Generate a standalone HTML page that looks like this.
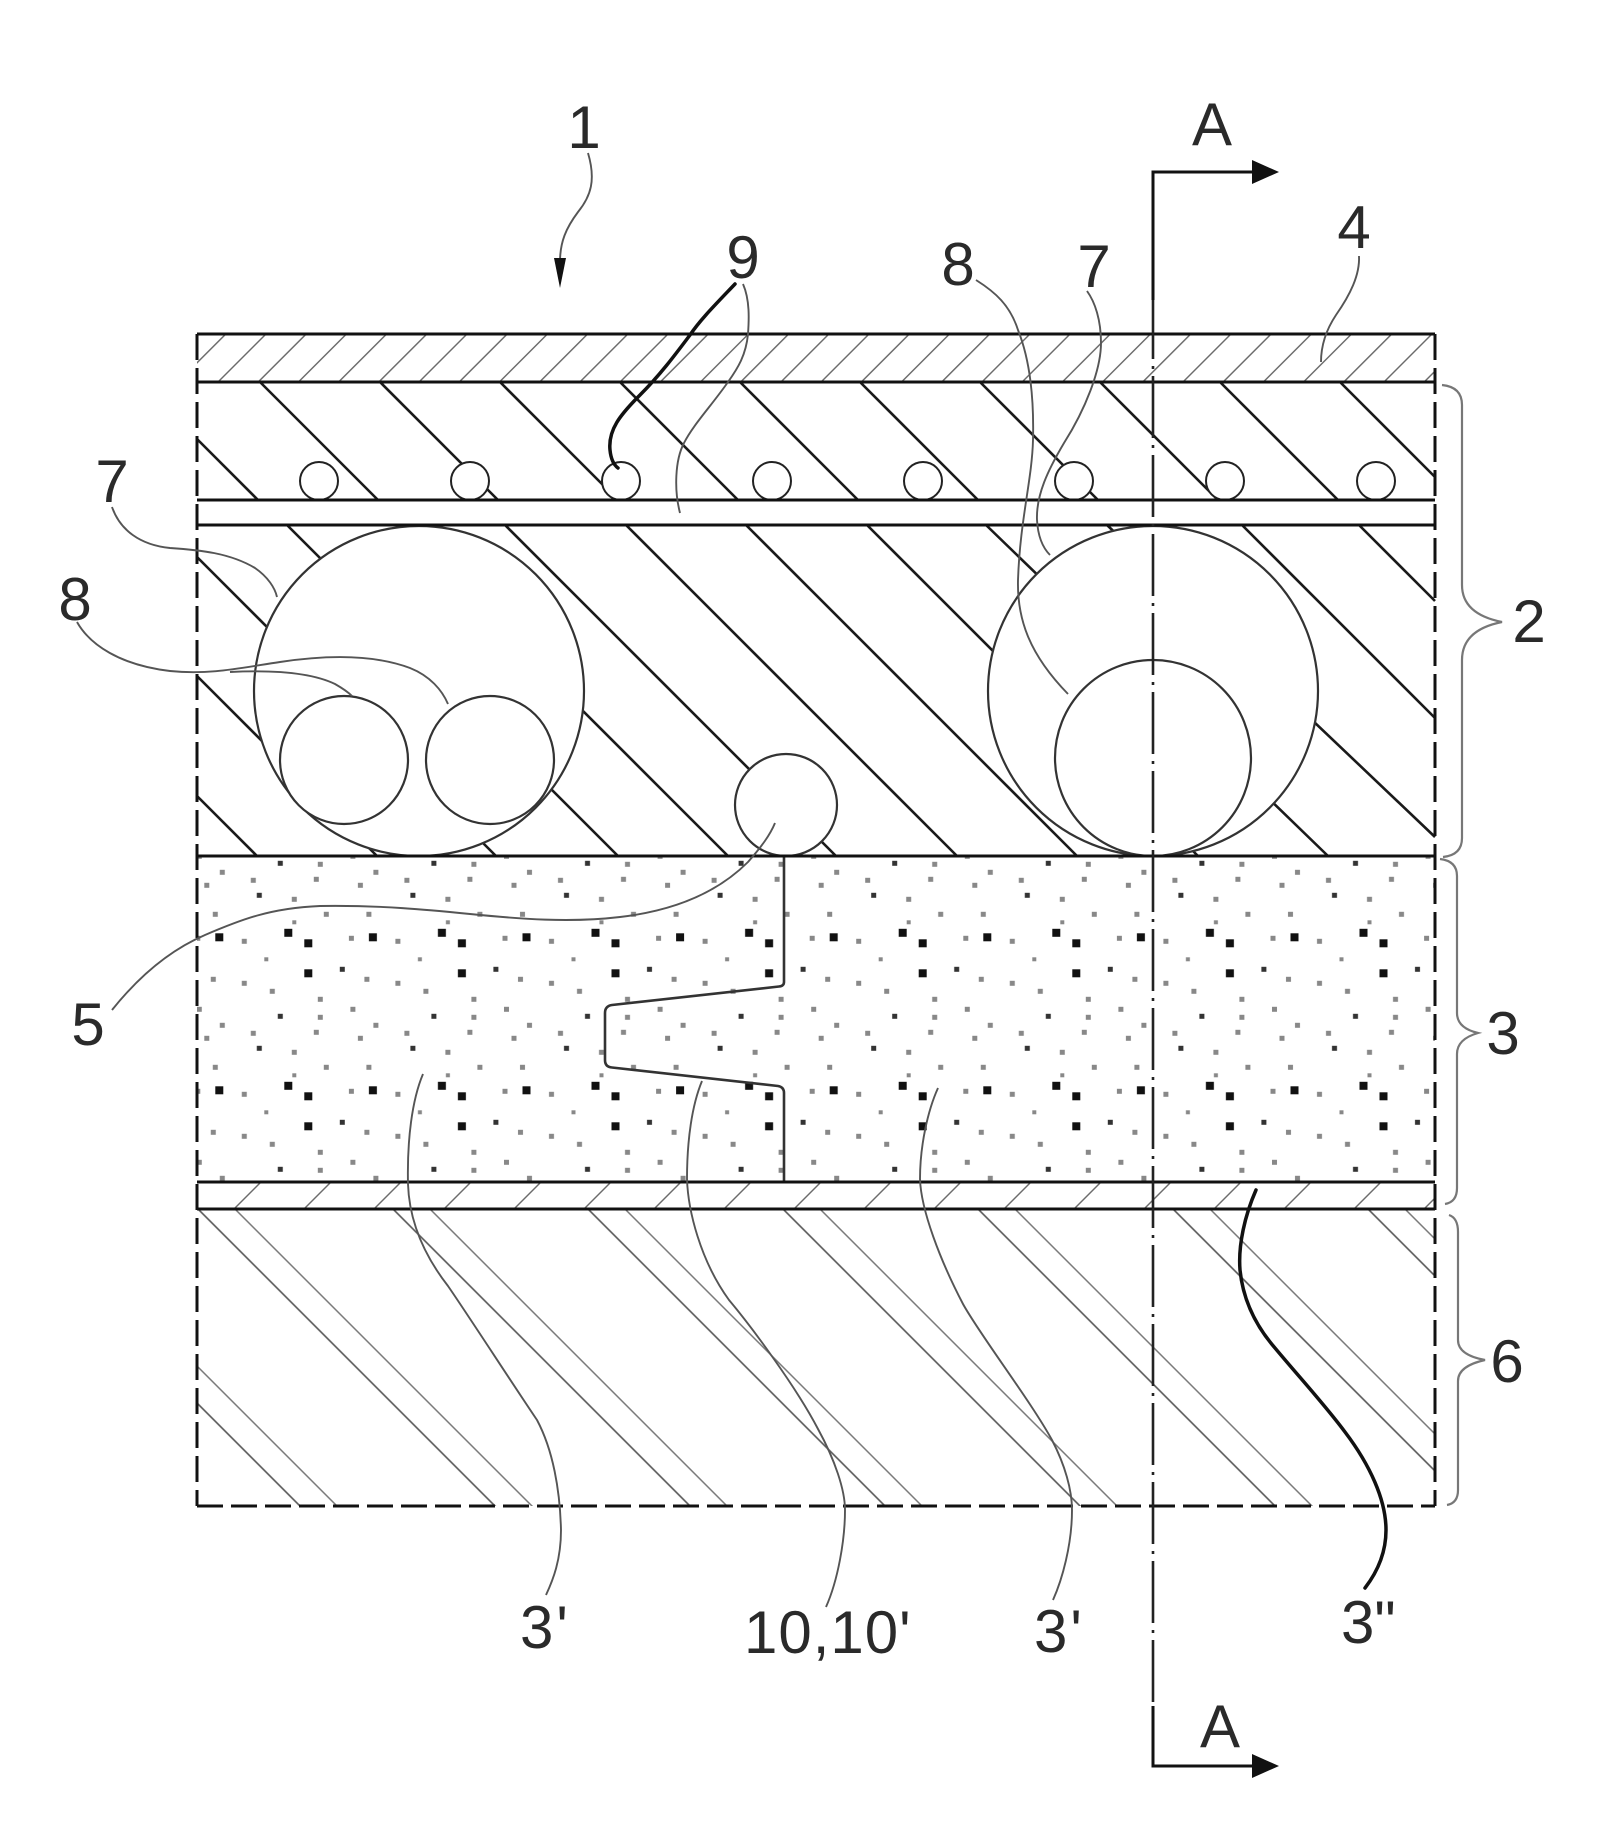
<!DOCTYPE html>
<html>
<head>
<meta charset="utf-8">
<style>
html,body{margin:0;padding:0;background:#fff;}
svg{display:block;}
text{font-family:"Liberation Sans",Arial,sans-serif;font-size:60px;fill:#2a2a2a;}
</style>
</head>
<body>
<svg width="1605" height="1827" viewBox="0 0 1605 1827" xmlns="http://www.w3.org/2000/svg">
<defs>
  <pattern id="pB4" patternUnits="userSpaceOnUse" x="410.06" y="0" width="28.43" height="20" patternTransform="rotate(45)">
    <rect x="13.5" y="0" width="1.4" height="20" fill="#666"/>
  </pattern>
  <pattern id="pB3" patternUnits="userSpaceOnUse" x="995.6" y="0" width="49.5" height="20" patternTransform="rotate(45)">
    <rect x="24.05" y="0" width="1.4" height="20" fill="#666"/>
  </pattern>
  <pattern id="pL6" patternUnits="userSpaceOnUse" x="-734.9" y="0" width="137.89" height="20" patternTransform="rotate(-45)">
    <rect x="19.2" y="0" width="1.6" height="20" fill="#555"/>
    <rect x="45.4" y="0" width="1.5" height="20" fill="#777"/>
  </pattern>
  <pattern id="pDots" patternUnits="userSpaceOnUse" x="194.3" y="927.3" width="153.6" height="153">
    <g fill="#111">
      <rect x="21" y="6" width="8" height="8"/>
      <rect x="90" y="1.5" width="8" height="8"/>
      <rect x="110" y="12" width="8" height="8"/>
      <rect x="110" y="42" width="8" height="8"/>
    </g>
    <g fill="#333">
      <rect x="145.5" y="39.5" width="5" height="5"/>
      <rect x="83.5" y="86.5" width="5" height="5"/>
      <rect x="62.5" y="118.5" width="5" height="5"/>
    </g>
    <g fill="#888">
      <rect x="47.5" y="11.5" width="5" height="5"/>
      <rect x="1" y="8.5" width="5" height="5"/>
      <rect x="16.5" y="49.5" width="5" height="5"/>
      <rect x="47.5" y="53.5" width="5" height="5"/>
      <rect x="75.5" y="61.5" width="5" height="5"/>
      <rect x="123.5" y="69.5" width="5" height="5"/>
      <rect x="2.5" y="79.5" width="5" height="5"/>
      <rect x="123.5" y="87.5" width="5" height="5"/>
      <rect x="25.5" y="95.5" width="5" height="5"/>
      <rect x="56.5" y="103.5" width="5" height="5"/>
      <rect x="119.5" y="102.5" width="5" height="5"/>
      <rect x="10" y="108.5" width="5" height="5"/>
      <rect x="97.5" y="122.5" width="5" height="5"/>
      <rect x="18.5" y="137.5" width="5" height="5"/>
      <rect x="129.5" y="137.5" width="5" height="5"/>
      <rect x="70" y="30" width="4" height="4"/>
      <rect x="98" y="146" width="4" height="4"/>
    </g>
  </pattern>
</defs>

<!-- fills / hatch regions -->
<rect x="197" y="334" width="1238" height="48" fill="url(#pB4)"/>
<rect x="197" y="1182" width="1238" height="27" fill="url(#pB3)"/>
<rect x="197" y="1209" width="1238" height="297" fill="url(#pL6)"/>
<rect x="197" y="857" width="1238" height="325" fill="url(#pDots)"/>

<!-- layer 2 upper hatch -->
<g stroke="#1a1a1a" stroke-width="2.6" fill="none">
  <line x1="197" y1="439" x2="258" y2="500"/>
  <line x1="260" y1="382" x2="378" y2="500"/>
  <line x1="380" y1="382" x2="498" y2="500"/>
  <line x1="500" y1="382" x2="618" y2="500"/>
  <line x1="620" y1="382" x2="738" y2="500"/>
  <line x1="740" y1="382" x2="858" y2="500"/>
  <line x1="860" y1="382" x2="978" y2="500"/>
  <line x1="980" y1="382" x2="1098" y2="500"/>
  <line x1="1100" y1="382" x2="1218" y2="500"/>
  <line x1="1220" y1="382" x2="1338" y2="500"/>
  <line x1="1340" y1="382" x2="1435" y2="477"/>
</g>
<!-- layer 2 lower hatch -->
<g stroke="#1a1a1a" stroke-width="2.6" fill="none">
  <line x1="197" y1="796" x2="257" y2="856"/>
  <line x1="197" y1="676" x2="377" y2="856"/>
  <line x1="197" y1="557" x2="496" y2="856"/>
  <line x1="287" y1="525" x2="618" y2="856"/>
  <line x1="397" y1="525" x2="728" y2="856"/>
  <line x1="505" y1="525" x2="836" y2="856"/>
  <line x1="626" y1="525" x2="957" y2="856"/>
  <line x1="746" y1="525" x2="1077" y2="856"/>
  <line x1="867" y1="525" x2="1198" y2="856"/>
  <line x1="986" y1="525" x2="1328" y2="856"/>
  <line x1="1107" y1="525" x2="1435" y2="837"/>
  <line x1="1242" y1="525" x2="1435" y2="718"/>
  <line x1="1359" y1="525" x2="1435" y2="601"/>
</g>

<!-- circles -->
<g fill="#fff" stroke="#333" stroke-width="2.2">
  <circle cx="419" cy="691" r="165"/>
  <circle cx="344" cy="760" r="64"/>
  <circle cx="490" cy="760" r="64"/>
  <circle cx="786" cy="805" r="51"/>
  <circle cx="1153" cy="691" r="165"/>
  <circle cx="1153" cy="758" r="98"/>
</g>
<g fill="#fff" stroke="#222" stroke-width="2">
  <circle cx="319" cy="481" r="19"/>
  <circle cx="470" cy="481" r="19"/>
  <circle cx="621" cy="481" r="19"/>
  <circle cx="772" cy="481" r="19"/>
  <circle cx="923" cy="481" r="19"/>
  <circle cx="1074" cy="481" r="19"/>
  <circle cx="1225" cy="481" r="19"/>
  <circle cx="1376" cy="481" r="19"/>
</g>

<!-- step line in layer 3 -->
<path d="M784,856 L784,982 Q784,986 779,986.5 L612,1005 Q605,1006 605,1013 L605,1060 Q605,1067 612,1067.5 L778,1086 Q784,1087 784,1093 L784,1182" fill="none" stroke="#333" stroke-width="2.6"/>

<!-- structural horizontal lines -->
<g stroke="#111" stroke-width="3">
  <line x1="197" y1="334" x2="1435" y2="334"/>
  <line x1="197" y1="382" x2="1435" y2="382"/>
  <line x1="197" y1="500" x2="1435" y2="500"/>
  <line x1="197" y1="525" x2="1435" y2="525"/>
  <line x1="197" y1="856" x2="1435" y2="856"/>
  <line x1="197" y1="1182" x2="1435" y2="1182"/>
  <line x1="197" y1="1209" x2="1435" y2="1209"/>
</g>
<!-- dashed outline -->
<g stroke="#111" stroke-width="3" stroke-dasharray="26 8" fill="none">
  <line x1="197" y1="334" x2="197" y2="1506"/>
  <line x1="1435" y1="334" x2="1435" y2="1506"/>
  <line x1="197" y1="1506" x2="1435" y2="1506"/>
</g>

<!-- section line A-A -->
<line x1="1153" y1="297" x2="1153" y2="1710" stroke="#222" stroke-width="2.6" stroke-dasharray="62 7 3 7"/>
<path d="M1153,300 L1153,172 L1256,172" fill="none" stroke="#111" stroke-width="3"/>
<polygon points="1252,160 1279,172 1252,184" fill="#111"/>
<path d="M1153,1706 L1153,1766 L1256,1766" fill="none" stroke="#111" stroke-width="3"/>
<polygon points="1252,1754 1279,1766 1252,1778" fill="#111"/>

<!-- brackets -->
<g fill="none" stroke="#777" stroke-width="2.2">
  <path d="M1442,385 Q1462,387 1462,405 L1462,585 Q1462,614 1502,622 Q1462,630 1462,660 L1462,838 Q1462,855 1443,857"/>
  <path d="M1440,859 Q1457,861 1457,876 L1457,1013 Q1457,1028 1478,1033 Q1457,1039 1457,1054 L1457,1188 Q1457,1202 1445,1204"/>
  <path d="M1449,1215 Q1458,1218 1458,1232 L1458,1340 Q1458,1355 1485,1360 Q1458,1366 1458,1381 L1458,1490 Q1458,1503 1447,1505"/>
</g>

<!-- leaders (thin) -->
<g fill="none" stroke="#555" stroke-width="1.9">
  <path d="M588,153 C596,180 591,196 578,212 C566,228 560,242 560,262"/>
  <path d="M743,284 C750,300 749,320 748,334 C746,355 738,368 728,382 C712,405 693,425 684,443 C675,460 674,490 680,513"/>
  <path d="M976,280 C995,292 1010,305 1018,330 C1030,360 1034,400 1033,440 C1032,480 1020,520 1018,580 C1017,620 1030,655 1068,694"/>
  <path d="M1087,291 C1095,302 1101,320 1101,343 C1101,370 1085,410 1064,443 C1048,470 1036,495 1037,520 C1038,538 1043,548 1050,555"/>
  <path d="M1359,256 C1360,275 1350,295 1336,315 C1326,330 1321,345 1321,362"/>
  <path d="M112,507 C120,530 140,545 170,548 C200,550 230,553 255,568 C268,577 275,588 277,597"/>
  <path d="M77,622 C90,645 120,665 170,671 C210,675 240,668 280,662 C320,656 370,653 410,668 C430,676 442,690 448,704"/>
  <path d="M230,672 C270,670 310,672 335,684 C342,688 348,692 352,696"/>
  <path d="M112,1010 C140,975 170,950 205,935 C240,920 270,908 320,906 C380,905 430,910 470,914 C520,919 570,923 620,917 C680,910 720,890 748,862 C762,846 770,835 775,823"/>
  <path d="M423,1074 C412,1100 407,1140 408,1184 C409,1215 420,1250 448,1286 C470,1318 510,1380 537,1420 C553,1450 560,1490 561,1530 C561,1560 553,1580 546,1595"/>
  <path d="M702,1081 C692,1105 687,1140 687,1179 C688,1210 700,1260 729,1300 C750,1325 795,1385 818,1429 C835,1460 845,1490 845,1510 C845,1540 838,1580 826,1607"/>
  <path d="M938,1088 C928,1110 920,1145 920,1179 C921,1210 940,1260 963,1304 C980,1335 1030,1400 1052,1440 C1065,1465 1072,1490 1072,1510 C1072,1545 1062,1580 1053,1600"/>
</g>
<polygon points="554,258 566,258 560,288" fill="#111"/>
<!-- thick leaders -->
<g fill="none" stroke="#111" stroke-width="3.5" stroke-linecap="round">
  <path d="M735,284 C715,305 700,320 690,335 C675,355 660,375 640,395 C620,415 608,430 610,450 C611,460 614,465 618,468"/>
  <path d="M1256,1190 C1245,1215 1238,1245 1240,1270 C1243,1300 1255,1325 1275,1348 C1300,1378 1325,1405 1345,1432 C1370,1465 1386,1500 1386,1530 C1386,1555 1375,1575 1365,1588"/>
</g>

<!-- labels -->
<g text-anchor="middle">
  <text x="584" y="148">1</text>
  <text x="743" y="278">9</text>
  <text x="958" y="285">8</text>
  <text x="1094" y="287">7</text>
  <text x="1354" y="248">4</text>
  <text x="1212" y="145">A</text>
  <text x="112" y="502">7</text>
  <text x="75" y="620">8</text>
  <text x="88" y="1045">5</text>
  <text x="1529" y="642">2</text>
  <text x="1503" y="1054">3</text>
  <text x="1507" y="1382">6</text>
  <text x="1220" y="1747">A</text>
</g>
<text x="520" y="1648" letter-spacing="3">3'</text>
<text x="744" y="1653" letter-spacing="1">10,10'</text>
<text x="1034" y="1652" letter-spacing="3">3'</text>
<text x="1341" y="1643">3&quot;</text>
</svg>
</body>
</html>
